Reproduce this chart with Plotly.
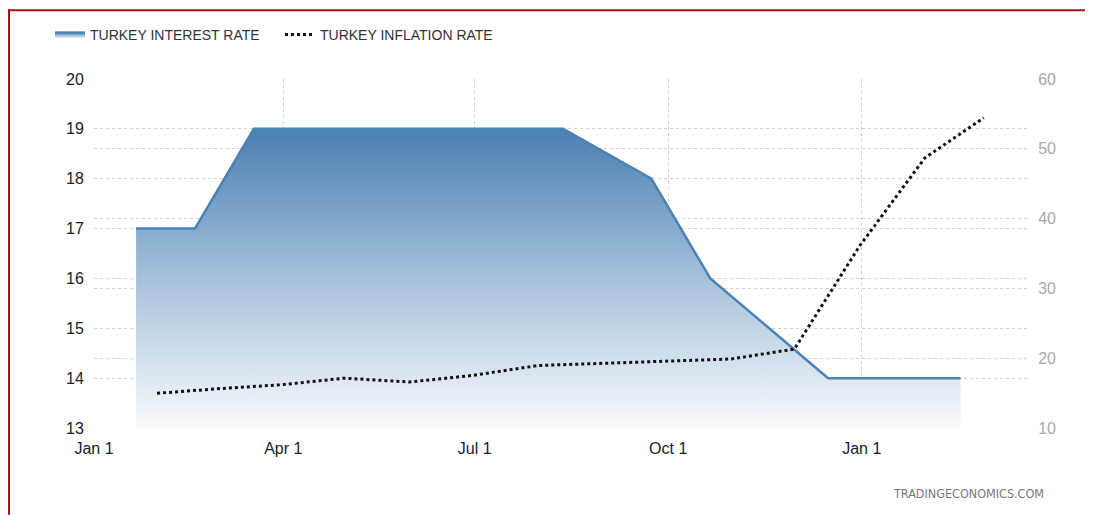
import plotly.graph_objects as go

# Interest rate (policy meeting dates) - left axis
rate_dates = ["2021-01-21", "2021-02-18", "2021-03-18", "2021-04-15", "2021-05-06",
              "2021-06-17", "2021-07-14", "2021-08-12", "2021-09-23", "2021-10-21",
              "2021-11-18", "2021-12-16", "2022-01-20", "2022-02-17"]
rate_values = [17, 17, 19, 19, 19, 19, 19, 19, 18, 16, 15, 14, 14, 14]

# Inflation rate (month end) - right axis
infl_dates = ["2021-01-31", "2021-02-28", "2021-03-31", "2021-04-30", "2021-05-31",
              "2021-06-30", "2021-07-31", "2021-08-31", "2021-09-30", "2021-10-31",
              "2021-11-30", "2021-12-31", "2022-01-31", "2022-02-28"]
infl_values = [14.97, 15.61, 16.19, 17.14, 16.59, 17.53, 18.95, 19.25, 19.58, 19.89,
               21.31, 36.08, 48.69, 54.44]

x_tickvals = ["2021-01-01", "2021-04-01", "2021-07-01", "2021-10-01", "2022-01-01"]
x_ticktext = ["Jan 1", "Apr 1", "Jul 1", "Oct 1", "Jan 1"]

OFF = 8  # page body margin
W, H = 1093 - OFF, 515 - OFF
L, R, T, B = 94 - OFF, 1030 - OFF, 78 - OFF, 428 - OFF

def px(x):
    return (x - OFF - L) / (R - L)

def py(y):
    return (B - (y - OFF)) / (B - T)

fig = go.Figure()

fig.add_trace(go.Scatter(
    x=rate_dates, y=rate_values, name="TURKEY INTEREST RATE",
    mode="lines", line=dict(color="#4a82b4", width=2.5),
    fill="tozeroy",
    fillgradient=dict(type="vertical", start=13, stop=19,
                      colorscale=[[0, "rgba(248,250,253,1)"], [0.5, "#a6c1da"], [1, "#4a7fb1"]]),
    yaxis="y",
))

fig.add_trace(go.Scatter(
    x=infl_dates, y=infl_values, name="TURKEY INFLATION RATE",
    mode="lines", line=dict(color="#111111", width=3, dash="dot"),
    yaxis="y2",
))

grid = dict(showgrid=True, gridcolor="#d0d0d0", griddash="dot", gridwidth=1)

fig.update_layout(
    width=W, height=H,
    margin=dict(l=L, r=W - R, t=T, b=H - B, pad=0),
    paper_bgcolor="white", plot_bgcolor="white",
    font=dict(family="Liberation Sans, Arial", color="#222"),
    showlegend=True,
    legend=dict(orientation="h", x=px(50), y=py(19), xanchor="left", yanchor="top",
                font=dict(size=14, color="#333", family="Liberation Sans, Arial, sans-serif"),
                itemwidth=30, entrywidth=185, entrywidthmode="pixels",
                tracegroupgap=0, bgcolor="rgba(0,0,0,0)"),
    xaxis=dict(type="date", range=["2021-01-01", "2022-03-22"],
               tickvals=x_tickvals, ticktext=x_ticktext,
               tickfont=dict(size=16, color="#1a1a2a"),
               ticks="outside", ticklen=6, tickcolor="rgba(0,0,0,0)",
               showline=False, zeroline=False, **grid),
    yaxis=dict(range=[13, 20], dtick=1, tickfont=dict(size=16, color="#1a1a2a"),
               ticks="outside", ticklen=6, tickcolor="rgba(0,0,0,0)",
               showline=False, zeroline=False, **grid),
    yaxis2=dict(range=[10, 60], dtick=10, overlaying="y", side="right",
                tickfont=dict(size=16, color="#a8a8a8"),
                ticks="outside", ticklen=4, tickcolor="rgba(0,0,0,0)",
                showline=False, zeroline=False, **grid),
)

# red frame
fig.add_shape(type="line", xref="paper", yref="paper",
              x0=px(OFF), x1=px(1093), y0=py(OFF + 1), y1=py(OFF + 1),
              line=dict(color="#a31515", width=2))
fig.add_shape(type="line", xref="paper", yref="paper",
              x0=px(OFF + 1), x1=px(OFF + 1), y0=py(OFF), y1=py(515),
              line=dict(color="#a31515", width=2))

fig.add_annotation(text="TRADINGECONOMICS.COM", xref="paper", yref="paper",
                   x=px(1046), y=py(494), xanchor="right", yanchor="middle",
                   showarrow=False, font=dict(size=12.5, color="#777",
                                               family="DejaVu Sans Condensed, Liberation Sans Narrow, sans-serif"))

fig.write_html("out.html")
